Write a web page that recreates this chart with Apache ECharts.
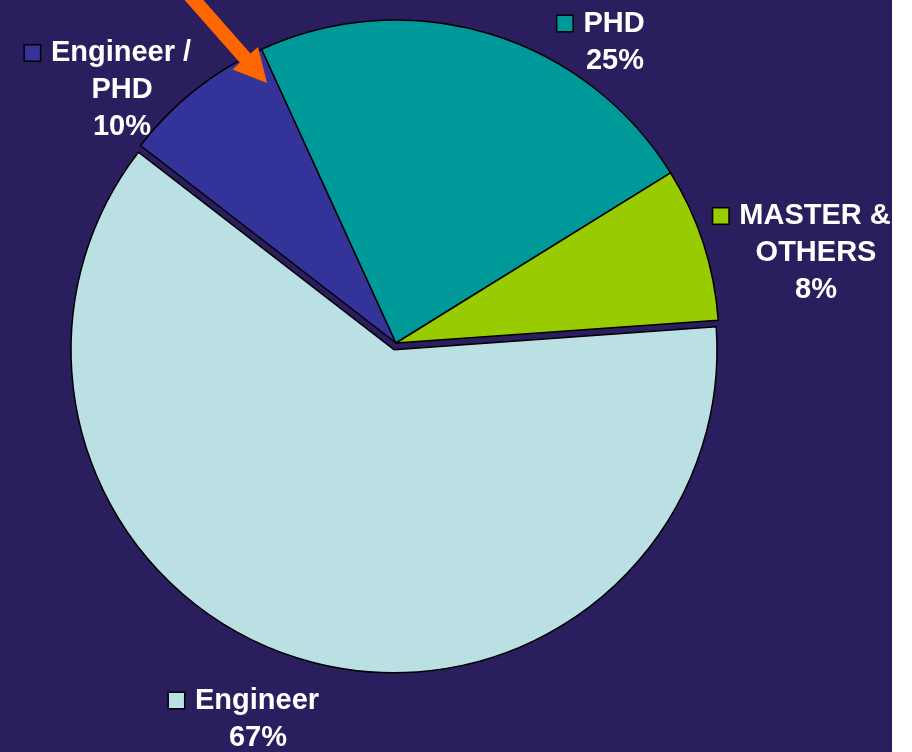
<!DOCTYPE html>
<html>
<head>
<meta charset="utf-8">
<script src="https://cdn.jsdelivr.net/npm/echarts@6/dist/echarts.min.js"></script>
<style>
  html, body { margin: 0; padding: 0; background: #ffffff; }
  #chart { width: 892px; height: 752px; background: #2a1e5f; }
</style>
</head>
<body>
<div id="chart"></div>
<script>
const categories = ['Engineer / PHD', 'PHD', 'MASTER & OTHERS', 'Engineer'];
const values = [7.7, 23.0, 7.7, 61.6];
const labelLines = [['Engineer /', 'PHD'], ['PHD'], ['MASTER &', 'OTHERS'], ['Engineer']];
const percentLabels = ['10%', '25%', '8%', '67%'];
const colors = ['#333399', '#009999', '#99cc00', '#bbe0e3'];
const explodedIndex = 3;

// layout
const pieCenter = [396, 343];
const pieRadius = 323;
const startAngle = 142.3;
const explodeShift = [-2, 6.7];
const labelCenters = [[122, 90], [615, 42], [816, 253], [258, 719]];

const rich = {
  t: { color: '#ffffff', fontSize: 29, fontWeight: 'bold', fontFamily: 'Liberation Sans, Arial, sans-serif', lineHeight: 37 },
  g: { width: 11, lineHeight: 37 },
  pad: { width: 28, lineHeight: 37 }
};
colors.forEach((c, i) => {
  rich['b' + i] = { width: 15, height: 15, backgroundColor: c, borderColor: '#000', borderWidth: 1.5, lineHeight: 37 };
});

const hidden = { color: 'rgba(0,0,0,0)', borderWidth: 0 };

const chart = echarts.init(document.getElementById('chart'), null, { renderer: 'canvas' });
chart.setOption({
  animation: false,
  backgroundColor: '#2a1e5f',
  series: [{
    // exploded slice, drawn with its own shifted centre
    type: 'pie',
    z: 1,
    center: [pieCenter[0] + explodeShift[0], pieCenter[1] + explodeShift[1]],
    radius: pieRadius,
    startAngle: startAngle,
    clockwise: true,
    silent: true,
    emphasis: { disabled: true },
    itemStyle: { borderColor: '#000000', borderWidth: 1.5 },
    label: { show: false },
    labelLine: { show: false },
    data: categories.map((name, i) => ({
      name: name,
      value: values[i],
      itemStyle: i === explodedIndex ? { color: colors[i] } : hidden
    }))
  }, {
    type: 'pie',
    z: 2,
    center: pieCenter,
    radius: pieRadius,
    startAngle: startAngle,
    clockwise: true,
    silent: true,
    emphasis: { disabled: true },
    itemStyle: { borderColor: '#000000', borderWidth: 1.5 },
    labelLine: { show: false },
    label: {
      show: true,
      position: 'inside',
      align: 'center',
      overflow: 'none',
      formatter: function (p) {
        const i = p.dataIndex;
        const lines = labelLines[i];
        let s = '{b' + i + '|}{g|}{t|' + lines[0] + '}{pad|}';
        for (let k = 1; k < lines.length; k++) s += '\n{t|' + lines[k] + '}';
        s += '\n{t|' + percentLabels[i] + '}';
        return s;
      },
      rich: rich
    },
    labelLayout: function (params) {
      const c = labelCenters[params.dataIndex];
      return { x: c[0], y: c[1], align: 'center', verticalAlign: 'middle', hideOverlap: false };
    },
    data: categories.map((name, i) => ({
      name: name,
      value: values[i],
      itemStyle: i === explodedIndex ? hidden : { color: colors[i] }
    }))
  }],
  graphic: [{
    type: 'polygon',
    z: 100,
    shape: {
      points: [[191.0, -14.0], [250.5, 53.6], [258.0, 47.0], [267, 83], [232.4, 69.4], [239.9, 62.8], [180.4, -4.8]]
    },
    style: { fill: '#ff6600' }
  }]
});
</script>
</body>
</html>
